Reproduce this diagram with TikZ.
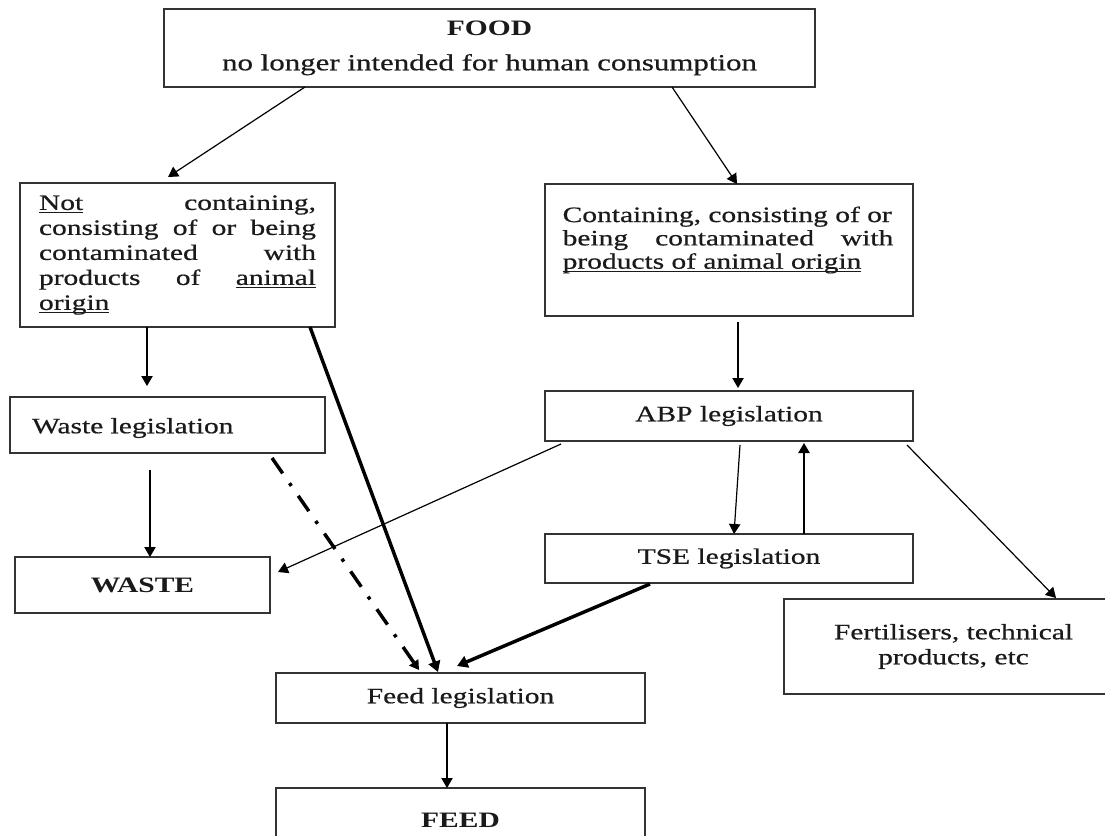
\documentclass[tikz,border=0pt]{standalone}
\usepackage{fontspec}
\setmainfont{Liberation Serif}[FakeStretch=1.34, UprightFeatures={FakeBold=0.6}]
\usetikzlibrary{arrows.meta,calc}
\newcommand{\undl}[1]{\leavevmode\setbox0=\hbox{#1}\rlap{\rule[-2.6pt]{\wd0}{0.9pt}}\box0}
\definecolor{edge}{HTML}{333333}
\definecolor{ink}{HTML}{1A1A1A}
\begin{document}
\begin{tikzpicture}[x=0.75pt,y=-0.75pt,
  box/.style={draw=edge, line width=1pt, inner sep=0pt, outer sep=0pt, text=ink,
     font=\fontsize{16.5}{18.75}\selectfont},
  txt/.style={inner sep=0pt, outer sep=0pt, text=ink, font=\fontsize{16.5}{18.75}\selectfont},
  arr/.style={draw=black, line width=0.9pt, -{Triangle[length=7.5pt,width=8.5pt]}},
  thickarr/.style={draw=black, line width=2.6pt, -{Triangle[length=8pt,width=9pt]}},
  dasharr/.style={draw=black, line width=2.6pt, dash pattern=on 14pt off 9pt on 2.5pt off 9pt,
     -{Triangle[length=7pt,width=8pt]}}
]
\useasboundingbox (0,0) rectangle (1105,835);
\fill[white] (0,0) rectangle (1105,835);
\clip (0,0) rectangle (1105,835);

% boxes
\node[box, minimum width=488.25pt, minimum height=58.5pt, align=center] (food) at (489.5,48)
  {\textbf{FOOD}\\[7.5pt]{\fontsize{17.3}{18.75}\selectfont no longer intended for human consumption}};

\node[box, minimum width=236.25pt, minimum height=108pt, text width=207.75pt, align=left] (notbox) at (177.5,255)
  {\undl{Not}\hfill containing,\\
   consisting\hfill of\hfill or\hfill being\\
   contaminated\hfill with\\
   products\hfill of\hfill \undl{animal}\\
   \undl{origin}};

\node[box, minimum width=276pt, minimum height=99pt] (contbox) at (729,250) {};
\node[txt, text width=248pt, align=left, font=\fontsize{16.5}{17.5}\selectfont] (conttext) at (728,240)
  {Containing, consisting of or\\
   being\hfill contaminated\hfill with\\
   \undl{products of animal origin}};

\node[box, minimum width=236.25pt, minimum height=42pt] (wasteleg) at (167.5,425) {};
\node[txt, anchor=west] (wastelegtext) at (32,428) {Waste legislation};

\node[box, minimum width=191.25pt, minimum height=42pt] (waste) at (142.5,585) {\textbf{WASTE}};

\node[box, minimum width=276pt, minimum height=37.5pt] (abp) at (729,416) {ABP legislation};
\node[box, minimum width=276pt, minimum height=36.75pt] (tse) at (729,558.5) {TSE legislation};

\node[box, minimum width=254.25pt, minimum height=71.25pt, align=center] (fert) at (953.5,646.5)
  {Fertilisers, technical\\products, etc};

\node[box, minimum width=276.75pt, minimum height=37.5pt] (feedleg) at (460.5,698) {Feed legislation};
\node[box, minimum width=276.75pt, minimum height=48pt] (feed) at (460.5,820) {\textbf{FEED}};

% connectors
\draw[arr] ($(food.south west)+(141,0)$) -- ($(notbox.north west)+(148,-6)$);
\draw[arr] ($(food.south west)+(508,0)$) -- ($(contbox.north west)+(192,0)$);
\draw[arr] ($(notbox.south west)+(127,0)$) -- ($(wasteleg.north west)+(137,-11)$);
\draw[arr] ($(wasteleg.south west)+(140,17)$) -- ($(waste.north west)+(135,0)$);
\draw[thickarr] ($(notbox.south west)+(290,0)$) -- ($(feedleg.north west)+(162,-1)$);
\draw[dasharr] ($(wasteleg.south west)+(262,5)$) -- ($(feedleg.north west)+(143,-3)$);
\draw[arr] ($(contbox.south west)+(193,6)$) -- ($(abp.north west)+(193,-3)$);
\draw[arr] ($(abp.south west)+(16,3)$) -- ($(waste.north east)+(8,15)$);
\draw[arr] ($(abp.south west)+(195,4)$) -- ($(tse.north west)+(189,0)$);
\draw[arr] ($(tse.north west)+(259,0)$) -- ($(abp.south west)+(259,2)$);
\draw[arr] ($(abp.south east)+(-6,4)$) -- ($(fert.north west)+(272,-1)$);
\draw[thickarr] ($(tse.south west)+(105,1)$) -- ($(feedleg.north west)+(181,-7)$);
\draw[arr] ($(feedleg.south west)+(171,0)$) -- ($(feed.north west)+(171,0)$);
\end{tikzpicture}
\end{document}
